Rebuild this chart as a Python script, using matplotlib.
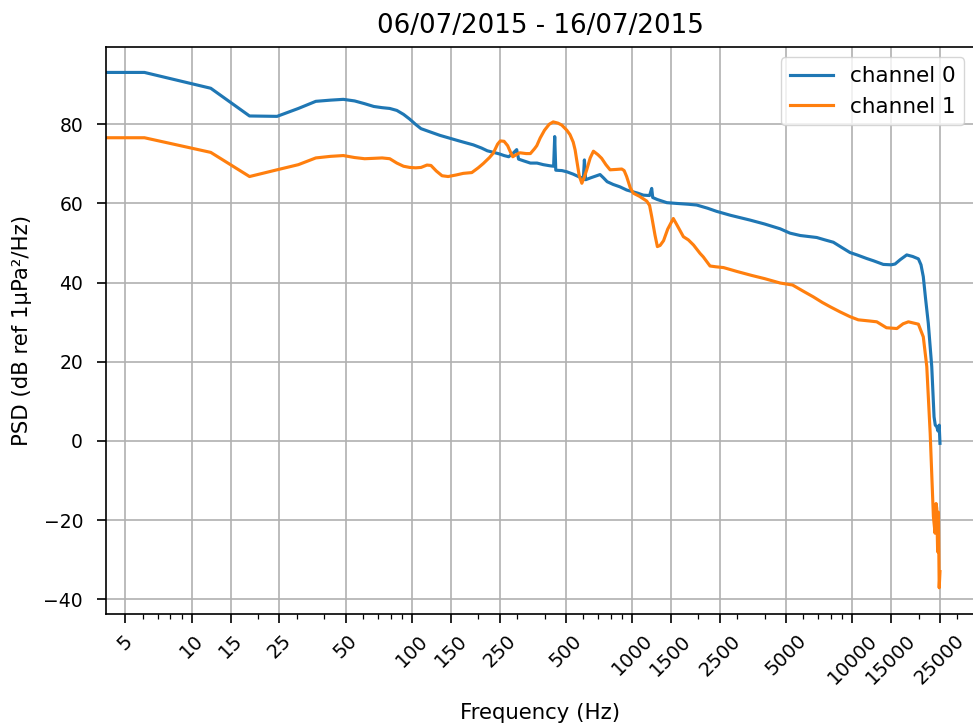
import matplotlib
matplotlib.use("Agg")
import matplotlib.pyplot as plt
from matplotlib.ticker import NullFormatter

title = "06/07/2015 - 16/07/2015"
xlabel = "Frequency (Hz)"
ylabel = "PSD (dB ref 1µPa²/Hz)"
series_names = ["channel 0", "channel 1"]

xtick_values = [5, 10, 15, 25, 50, 100, 150, 250, 500, 1000, 1500, 2500, 5000, 10000, 15000, 25000]
xtick_labels = [str(v) for v in xtick_values]
ytick_values = [-40, -20, 0, 20, 40, 60, 80]

freq_ch0 = [0, 6.1, 12.2, 18.3, 24.4, 30.5, 36.6, 42.7, 48.8, 54.9, 61.0, 67.1, 73.2, 79.3, 85.4,
            91.6, 97.7, 103.8, 109.9, 122, 134, 146, 159, 171, 190, 207, 220, 235, 250, 262, 275,
            287, 299, 305, 320, 345, 370, 395, 425, 440, 445, 450, 480, 505, 540, 570, 590, 600,
            607, 615, 650, 690, 715, 740, 770, 820, 880, 944, 1000, 1060, 1124, 1200, 1227, 1240,
            1300, 1437, 1600, 1800, 1965, 2200, 2420, 2800, 3430, 4000, 4700, 5210, 5800, 6890,
            7500, 8200, 9000, 9760, 10500, 11610, 12500, 13820, 15000, 15630, 16500, 17660, 18800,
            19950, 20500, 21000, 21500, 22130, 22940, 23500, 23800, 24170, 24500, 24800, 25000]
psd_ch0 = [93.1, 93.1, 89.1, 82.1, 82.0, 84.0, 85.8, 86.1, 86.3, 85.9, 85.2, 84.5, 84.2, 84.0, 83.5,
           82.5, 81.3, 80.0, 78.9, 78.0, 77.2, 76.6, 76.0, 75.5, 74.8, 74.0, 73.3, 72.9, 72.5, 72.1, 71.8,
           72.6, 73.6, 71.2, 70.8, 70.2, 70.2, 69.8, 69.5, 69.4, 76.9, 68.4, 68.3, 68.0, 67.4, 66.8, 66.5, 66.0,
           71.0, 66.0, 66.5, 67.0, 67.3, 66.5, 65.5, 64.8, 64.2, 63.4, 63.0, 62.6, 62.1, 62.0, 63.8, 61.5,
           61.0, 60.2, 60.0, 59.8, 59.6, 58.8, 58.0, 57.0, 55.8, 54.8, 53.6, 52.5, 51.9, 51.4,
           50.8, 50.2, 48.8, 47.6, 47.0, 46.1, 45.5, 44.6, 44.5, 44.7, 45.8, 47.0, 46.6,
           46.0, 44.5, 41.5, 36.0, 29.7, 18.8, 6.1, 4.0, 3.6, 2.5, 4.0, -0.6]

freq_ch1 = [0, 6.1, 12.2, 18.3, 24.4, 30.5, 36.6, 42.7, 48.8, 54.9, 61.0, 67.1, 73.2, 79.3, 85.4,
            91.6, 97.7, 104, 110, 117, 122, 129, 137, 146, 159, 171, 187, 200, 211, 225, 234, 245,
            252, 262, 272, 280, 287, 297, 309, 330, 345, 360, 369, 382, 400, 420, 438, 460, 479,
            505, 522, 540, 551, 560, 575, 591, 605, 622, 645, 667, 700, 727, 760, 794, 850, 897,
            920, 944, 980, 1012, 1080, 1165, 1200, 1227, 1270, 1302, 1340, 1389, 1450, 1538, 1600,
            1709, 1800, 1900, 2033, 2104, 2258, 2400, 2600, 3000, 3500, 4000, 4700, 5350, 6000,
            6650, 7300, 7930, 8800, 9760, 10640, 12000, 12910, 14290, 15930, 17000, 17970, 19950,
            21000, 21780, 22570, 23000, 23340, 23750, 24000, 24170, 24400, 24600, 24800, 25000]
psd_ch1 = [76.6, 76.6, 72.9, 66.8, 68.5, 69.8, 71.5, 71.9, 72.1, 71.6, 71.3, 71.4, 71.5, 71.3, 70.2,
           69.4, 69.1, 69.0, 69.1, 69.7, 69.6, 68.2, 67.0, 66.8, 67.2, 67.6, 67.8, 69.0, 70.1, 71.6, 72.7, 75.0,
           75.8, 75.7, 74.6, 73.0, 71.8, 72.3, 72.8, 72.6, 72.6, 73.8, 74.6, 76.5, 78.5, 80.0, 80.6, 80.3, 79.8,
           78.5, 77.4, 75.5, 73.5, 71.0, 67.0, 65.1, 66.5, 68.5, 71.5, 73.2, 72.3, 71.4, 69.8, 68.5, 68.6, 68.7,
           68.3, 66.8, 64.0, 62.6, 61.8, 60.6, 59.5, 56.7, 52.0, 49.1, 49.4, 50.6, 53.5, 56.2, 54.5,
           51.6, 50.8, 49.5, 47.4, 46.5, 44.2, 44.0, 43.8, 42.8, 41.8, 41.0, 39.9, 39.4, 37.8,
           36.4, 35.0, 33.9, 32.6, 31.4, 30.6, 30.3, 30.1, 28.6, 28.4, 29.6, 30.1, 29.5,
           26.3, 18.8, 1.9, -10.0, -19.1, -23.3, -15.8, -17.0, -28.0, -18.0, -37.1, -33.0]

fig = plt.figure(figsize=(9.73, 7.25), dpi=100)
ax = fig.add_axes([106 / 973, (725 - 613.7) / 725, (975 - 106) / 973, (613.7 - 46.7) / 725])

ax.plot(freq_ch0, psd_ch0, color="#1f77b4", lw=2.25, label=series_names[0])
ax.plot(freq_ch1, psd_ch1, color="#ff7f0e", lw=2.25, label=series_names[1])

ax.set_xscale("log")
ax.set_xlim(4.08, 36060)
ax.set_ylim(-43.64, 99.6)
ax.set_xticks(xtick_values)
ax.set_xticklabels(xtick_labels, rotation=45)
ax.xaxis.set_minor_formatter(NullFormatter())
ax.set_yticks(ytick_values)

ax.grid(True, which="major", color="#b0b0b0", linewidth=1.2)
ax.tick_params(which="major", length=6.5, width=1.2)
ax.tick_params(which="minor", length=3.3, width=0.9)
ax.tick_params(axis="x", which="major", labelsize=14, pad=6)
ax.tick_params(axis="y", which="major", labelsize=13.5, pad=10)
for sp in ax.spines.values():
    sp.set_linewidth(1.2)

ax.set_title(title, fontsize=18.8, pad=10)
ax.set_xlabel(xlabel, fontsize=15.3, labelpad=11)
ax.set_ylabel(ylabel, fontsize=15.3, labelpad=8)
ax.legend(loc="upper right", fontsize=15.5)

fig.savefig("out.png", dpi=100)
